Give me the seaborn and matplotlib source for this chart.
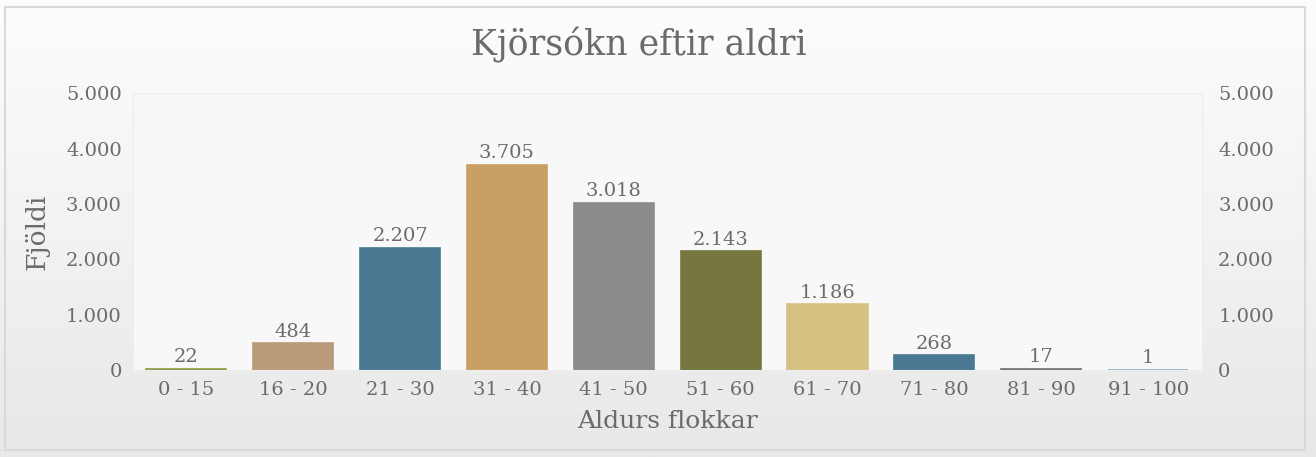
import matplotlib
matplotlib.use("Agg")
import matplotlib.pyplot as plt
import matplotlib.ticker as mtick
from matplotlib.patches import Rectangle
import numpy as np
import pandas as pd
import seaborn as sns

# Data
age_groups = ["0 - 15", "16 - 20", "21 - 30", "31 - 40", "41 - 50",
              "51 - 60", "61 - 70", "71 - 80", "81 - 90", "91 - 100"]
counts = [22, 484, 2207, 3705, 3018, 2143, 1186, 268, 17, 1]
bar_colors = ["#8c9a45", "#bb9a7a", "#4a7893", "#c9a063", "#8b8c8a",
              "#75773f", "#d6c182", "#4a7893", "#6e6e6e", "#8fabbd"]

df = pd.DataFrame({"group": age_groups, "count": counts})

sns.set_style("white")
plt.rcParams["font.family"] = ["DejaVu Serif"]
text_col = "#6b6b6b"

fig = plt.figure(figsize=(13.16, 4.57), dpi=100)

# Gradient background of the card
bg = fig.add_axes([0, 0, 1, 1], zorder=-10)
grad = np.linspace(0, 1, 256).reshape(-1, 1)
bg.imshow(grad, aspect="auto", cmap=matplotlib.colors.LinearSegmentedColormap.from_list(
    "g", ["#fdfdfd", "#e8e8e8"]), extent=[0, 1, 0, 1], origin="upper")
bg.set_xlim(0, 1)
bg.set_ylim(0, 1)
bg.axis("off")
bg.add_patch(Rectangle((0.004, 0.015), 0.988, 0.97, fill=False,
                       edgecolor="#d9d9d9", linewidth=1.5))

ax = fig.add_axes([0.101, 0.190, 0.812, 0.606])
ax.set_facecolor("#f8f8f8")
sns.barplot(data=df, x="group", y="count", hue="group", palette=bar_colors,
            legend=False, width=0.75, ax=ax, saturation=1)
# outline bars in their own colour so the tiny ones still show as lines
for bar, c in zip(ax.patches, bar_colors):
    bar.set_edgecolor(c)
    bar.set_linewidth(1.2)

ax.set_ylim(0, 5000)
ax.set_yticks(range(0, 5001, 1000))
fmt = mtick.FuncFormatter(lambda v, p: f"{int(v):,}".replace(",", "."))
ax.yaxis.set_major_formatter(fmt)
ax.tick_params(axis="both", length=0, labelsize=14, colors=text_col, pad=8)
for s in ax.spines.values():
    s.set_color("#eeeeee")

ax2 = ax.twinx()
ax2.set_ylim(0, 5000)
ax2.set_yticks(range(0, 5001, 1000))
ax2.yaxis.set_major_formatter(fmt)
ax2.tick_params(axis="y", length=0, labelsize=14, colors=text_col, pad=12)
for s in ax2.spines.values():
    s.set_visible(False)

for container in ax.containers:
    labels = [f"{int(b.get_height()):,}".replace(",", ".") for b in container]
    ax.bar_label(container, labels=labels, padding=2, fontsize=14, color=text_col)

ax.set_xlabel("Aldurs flokkar", fontsize=18, color=text_col, labelpad=8)
ax.set_ylabel("Fjöldi", fontsize=19, color=text_col, labelpad=12)
fig.suptitle("Kjörsókn eftir aldri", fontsize=25, color=text_col, x=0.485, y=0.94)

fig.savefig("out.png", dpi=100)
